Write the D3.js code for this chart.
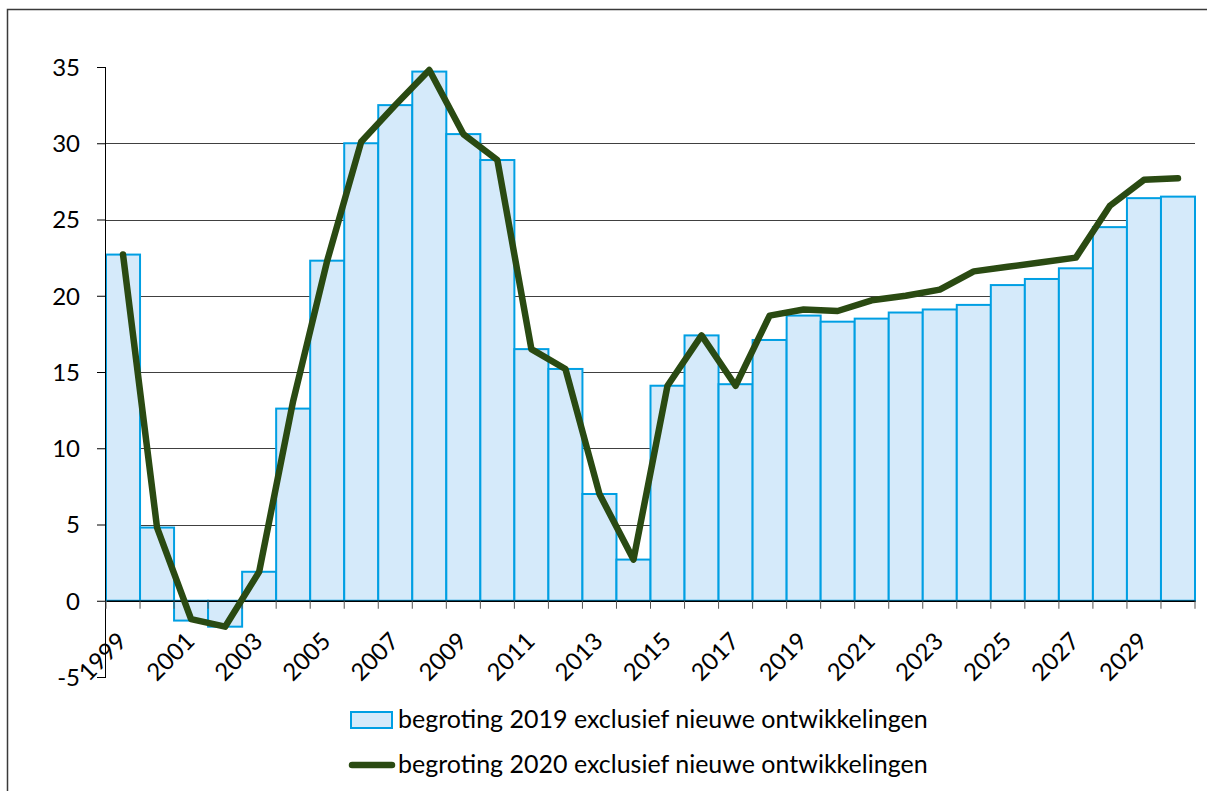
<!DOCTYPE html>
<html>
<head>
<meta charset="utf-8">
<script src="https://cdn.jsdelivr.net/npm/d3@7"></script>
<style>
  body { margin: 0; background: #fff; }
  text { font-family: Lato, "Open Sans", sans-serif; fill: #000; }
</style>
</head>
<body>
<div id="chart"></div>
<script>
// chart data
var years = d3.range(1999, 2031);
var tickYears = [1999, 2001, 2003, 2005, 2007, 2009, 2011, 2013, 2015, 2017, 2019, 2021, 2023, 2025, 2027, 2029];
var yTicks = [-5, 0, 5, 10, 15, 20, 25, 30, 35];

var begroting2019 = [22.7, 4.8, -1.3, -1.7, 1.9, 12.6, 22.3, 30.0, 32.5, 34.7, 30.6, 28.9, 16.5, 15.2, 7.0, 2.7,
    14.1, 17.4, 14.2, 17.1, 18.7, 18.3, 18.5, 18.9, 19.1, 19.4, 20.7, 21.1, 21.8, 24.5, 26.4, 26.5];
var begroting2020 = [22.7, 4.8, -1.2, -1.7, 1.9, 13.1, 22.3, 30.1, 32.5, 34.8, 30.6, 28.9, 16.5, 15.2, 7.0, 2.7,
    14.1, 17.4, 14.1, 18.7, 19.1, 19.0, 19.7, 20.0, 20.4, 21.6, 21.9, 22.2, 22.5, 25.9, 27.6, 27.7];

var label2019 = "begroting 2019 exclusief nieuwe ontwikkelingen";
var label2020 = "begroting 2020 exclusief nieuwe ontwikkelingen";

var svgWidth = 1207;
var svgHeight = 791;

var plot = { left: 106, right: 1195, top: 67, bottom: 677 };

var svg = d3.select("#chart").append("svg")
    .attr("width", svgWidth)
    .attr("height", svgHeight);

// outer frame (runs off the right and bottom edge)
svg.append("rect")
    .attr("x", 7.5)
    .attr("y", 9.5)
    .attr("width", 1400)
    .attr("height", 1000)
    .attr("fill", "none")
    .attr("stroke", "#3a3a3a")
    .attr("stroke-width", 1.5);

var xScale = d3.scaleBand()
    .domain(years)
    .range([plot.left, plot.right])
    .padding(0);

var yScale = d3.scaleLinear()
    .domain([-5, 35])
    .range([plot.bottom, plot.top]);

// gridlines (no line at the top value)
svg.append("g")
    .selectAll("line")
    .data(yTicks.filter(d => d !== 0 && d !== -5 && d !== 35))
    .enter()
    .append("line")
    .attr("x1", plot.left)
    .attr("x2", plot.right)
    .attr("y1", d => Math.round(yScale(d)) + 0.5)
    .attr("y2", d => Math.round(yScale(d)) + 0.5)
    .attr("stroke", "#404040")
    .attr("stroke-width", 1);

// bars
svg.append("g")
    .selectAll("rect")
    .data(begroting2019)
    .enter()
    .append("rect")
    .attr("x", (d, i) => xScale(years[i]))
    .attr("width", xScale.bandwidth())
    .attr("y", d => yScale(Math.max(d, 0)))
    .attr("height", d => Math.abs(yScale(d) - yScale(0)))
    .attr("fill", "#d5eafa")
    .attr("stroke", "#009fe3")
    .attr("stroke-width", 2);

// y axis
var leftAxis = d3.axisLeft(yScale)
    .tickValues(yTicks)
    .tickSize(9)
    .tickPadding(17)
    .tickFormat(d => String(d));

var yAxis = svg.append("g")
    .attr("transform", `translate(${plot.left},0)`)
    .call(leftAxis);
yAxis.select(".domain").attr("stroke", "#000").attr("d", `M-0.5,${plot.top}V${plot.bottom}`);
yAxis.selectAll(".tick line").attr("stroke", "#000");
yAxis.selectAll(".tick text")
    .style("font-size", "24px")
    .attr("dy", "0.35em");

// x axis on the zero line
var bottomAxis = d3.axisBottom(xScale)
    .tickValues([])
    .tickSizeOuter(0);

var xAxis = svg.append("g")
    .attr("transform", `translate(0,${yScale(0)})`)
    .call(bottomAxis);
xAxis.select(".domain").attr("stroke", "#000").attr("stroke-width", 1.5);

// tick marks on the category boundaries
xAxis.selectAll(".bound")
    .data(years.concat([2031]))
    .enter()
    .append("line")
    .attr("class", "bound")
    .attr("x1", (d, i) => plot.left + i * xScale.step())
    .attr("x2", (d, i) => plot.left + i * xScale.step())
    .attr("y1", 0)
    .attr("y2", 8)
    .attr("stroke", "#555");

// year labels, rotated
xAxis.selectAll(".yearlabel")
    .data(tickYears)
    .enter()
    .append("text")
    .attr("class", "yearlabel")
    .attr("text-anchor", "end")
    .attr("transform", d => `translate(${xScale(d) + xScale.bandwidth() / 2 + 5},${42}) rotate(-45)`)
    .style("font-size", "24px")
    .text(d => d);

// line for begroting 2020
var line = d3.line()
    .x((d, i) => xScale(years[i]) + xScale.bandwidth() / 2)
    .y(d => yScale(d));

svg.append("path")
    .datum(begroting2020)
    .attr("d", line)
    .attr("fill", "none")
    .attr("stroke", "#2a4a12")
    .attr("stroke-width", 6.5)
    .attr("stroke-linejoin", "round")
    .attr("stroke-linecap", "round");

// legend
var legend = svg.append("g");

legend.append("rect")
    .attr("x", 351)
    .attr("y", 712)
    .attr("width", 41)
    .attr("height", 16)
    .attr("fill", "#d5eafa")
    .attr("stroke", "#009fe3")
    .attr("stroke-width", 2);

legend.append("text")
    .attr("x", 398)
    .attr("y", 728)
    .style("font-size", "25px")
    .text(label2019);

legend.append("line")
    .attr("x1", 352)
    .attr("x2", 392)
    .attr("y1", 765)
    .attr("y2", 765)
    .attr("stroke", "#2a4a12")
    .attr("stroke-width", 6.5)
    .attr("stroke-linecap", "round");

legend.append("text")
    .attr("x", 398)
    .attr("y", 773)
    .style("font-size", "25px")
    .text(label2020);
</script>
</body>
</html>
